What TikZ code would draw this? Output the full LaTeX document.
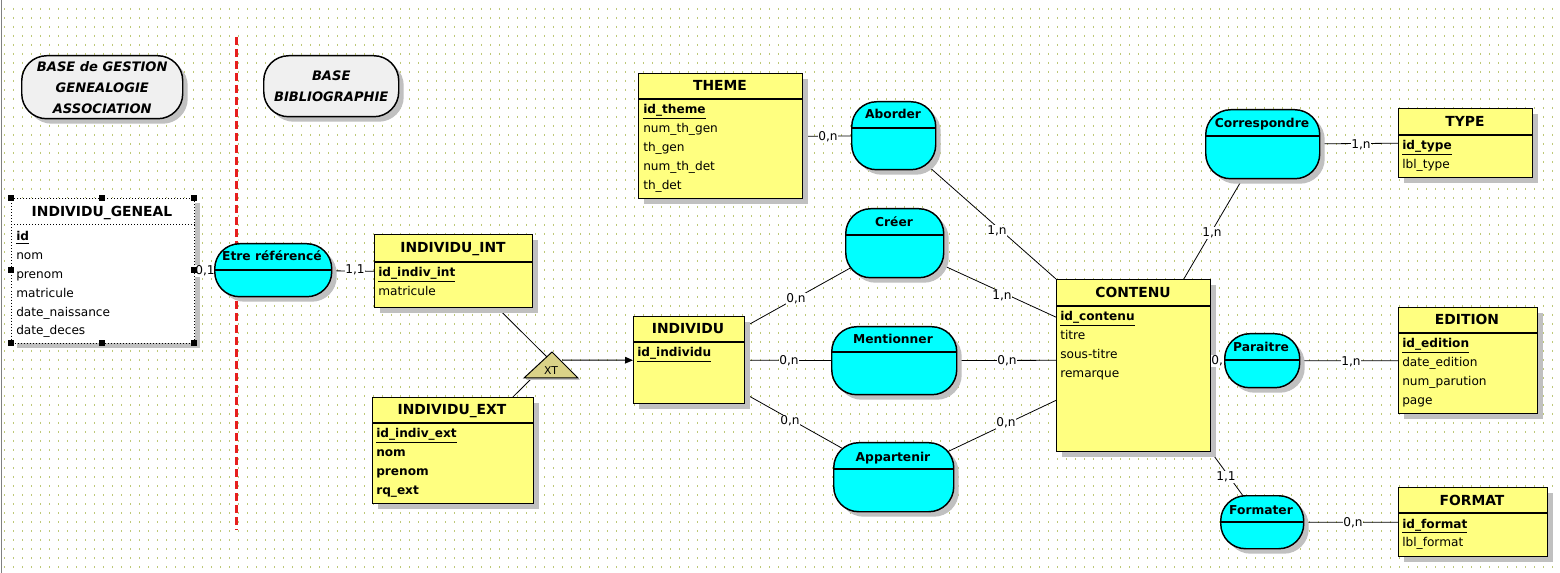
\documentclass[tikz,border=0pt]{standalone}
\usepackage{fontspec}
\setmainfont{DejaVu Sans}
\usetikzlibrary{arrows.meta,shadows}

\definecolor{jaune}{RGB}{255,255,128}
\definecolor{assoccyan}{RGB}{0,255,255}
\definecolor{grisfond}{RGB}{240,240,240}
\definecolor{ombre}{RGB}{192,192,192}
\definecolor{kaki}{RGB}{218,210,136}
\definecolor{grille}{RGB}{190,200,120}
\definecolor{rougetrait}{RGB}{230,30,30}
\newcommand{\cle}[1]{\underline{\textbf{#1}}}

\pgfdeclarelayer{fond}
\pgfdeclarelayer{liens}
\pgfsetlayers{fond,liens,main}

\begin{document}
\begin{tikzpicture}[x=0.75pt,y=-0.75pt,
  boxsize/.style 2 args={minimum width=#1*0.75pt,minimum height=#2*0.75pt,inner sep=0pt},
  ombree/.style={drop shadow={shadow xshift=3.75pt,shadow yshift=-3.75pt,fill=ombre,opacity=1}},
  entite/.style={draw,line width=1.1pt,fill=jaune,anchor=north west,ombree},
  assoc/.style={draw,line width=1.1pt,fill=assoccyan,rounded corners=18.75pt,anchor=north west,ombree},
  titre/.style={draw,line width=1.1pt,fill=grisfond,rounded corners=18.75pt,anchor=north west,ombree,
    align=center,font=\fontsize{9.8}{15.75}\selectfont\bfseries\itshape},
  trait/.style={line width=1.1pt},
  entete/.style={anchor=base,inner sep=0pt,font=\fontsize{10.4}{12}\selectfont\bfseries},
  nomassoc/.style={anchor=base,inner sep=0pt,font=\fontsize{9.2}{11}\selectfont\bfseries},
  attr/.style={anchor=base west,inner sep=0pt,font=\fontsize{9.1}{11}\selectfont},
  card/.style={fill=white,inner sep=0.6pt,font=\fontsize{9.1}{11}\selectfont},
  lien/.style={line width=0.6pt},
  heritage/.style={draw,line width=0.75pt,fill=kaki,drop shadow={shadow xshift=1.5pt,shadow yshift=-1.5pt,fill=ombre,opacity=1}},
  poignee/.style={fill=black,minimum size=4.5pt,inner sep=0pt}]

\useasboundingbox (0,0) rectangle (1560,573);

% Fond quadrille et separation
\begin{pgfonlayer}{fond}
\fill[white] (0,0) rectangle (1560,573);
\foreach \gx in {4,13,...,1558}
  \draw[grille,line width=0.75pt,dash pattern=on 1.5pt off 5.25pt] (\gx,8) -- (\gx,573);
\draw[gray,line width=0.75pt] (1,0) -- (1,573);
\draw[rougetrait,line width=2.25pt,dash pattern=on 6pt off 3pt] (236,37) -- (236,530);
\end{pgfonlayer}

% Cartouches
\node[titre,boxsize={161}{63}] (base-gen) at (21,55) {BASE de GESTION\\GENEALOGIE\\ASSOCIATION};
\node[titre,boxsize={135}{61}] (base-bib) at (263,55) {BASE\\BIBLIOGRAPHIE};

% Entites
\node[entite,fill=white,line width=0.75pt,dash pattern=on 0.75pt off 1.5pt,boxsize={183}{145}] (geneal) at (11,198) {};
\draw[line width=0.75pt,dash pattern=on 0.75pt off 1.5pt] (geneal.west |- 0,225) -- (geneal.east |- 0,225);
\node[entete] (geneal-t) at (102,217) {INDIVIDU\_GENEAL};
\foreach \a [count=\i] in {\cle{id},nom,prenom,matricule,date\_naissance,date\_deces}
  \node[attr] (geneal-\i) at (16,{241+18.8*(\i-1)}) {\a};

\node[entite,boxsize={158}{73}] (int) at (374,234) {};
\draw[trait] (int.west |- 0,262) -- (int.east |- 0,262);
\node[entete] (int-t) at (453,253) {INDIVIDU\_INT};
\foreach \a [count=\i] in {\cle{id\_indiv\_int},matricule}
  \node[attr] (int-\i) at (378,{277+18.8*(\i-1)}) {\a};

\node[entite,boxsize={161}{106}] (ext) at (372,397) {};
\draw[trait] (ext.west |- 0,423) -- (ext.east |- 0,423);
\node[entete] (ext-t) at (452,415) {INDIVIDU\_EXT};
\foreach \a [count=\i] in {\cle{id\_indiv\_ext},\textbf{nom},\textbf{prenom},\textbf{rq\_ext}}
  \node[attr] (ext-\i) at (376,{438+18.8*(\i-1)}) {\a};

\node[entite,boxsize={111}{87}] (individu) at (633,316) {};
\draw[trait] (individu.west |- 0,342) -- (individu.east |- 0,342);
\node[entete] (individu-t) at (688,334) {INDIVIDU};
\node[attr] (individu-1) at (637,357) {\cle{id\_individu}};

\node[entite,boxsize={164}{125}] (theme) at (638,73) {};
\draw[trait] (theme.west |- 0,99) -- (theme.east |- 0,99);
\node[entete] (theme-t) at (720,91) {THEME};
\foreach \a [count=\i] in {\cle{id\_theme},num\_th\_gen,th\_gen,num\_th\_det,th\_det}
  \node[attr] (theme-\i) at (643,{114+18.8*(\i-1)}) {\a};

\node[entite,boxsize={154}{172}] (contenu) at (1056,279) {};
\draw[trait] (contenu.west |- 0,306) -- (contenu.east |- 0,306);
\node[entete] (contenu-t) at (1133,298) {CONTENU};
\foreach \a [count=\i] in {\cle{id\_contenu},titre,sous-titre,remarque}
  \node[attr] (contenu-\i) at (1060,{321+18.8*(\i-1)}) {\a};

\node[entite,boxsize={134}{69}] (type) at (1398,108) {};
\draw[trait] (type.west |- 0,135) -- (type.east |- 0,135);
\node[entete] (type-t) at (1465,127) {TYPE};
\foreach \a [count=\i] in {\cle{id\_type},lbl\_type}
  \node[attr] (type-\i) at (1402,{150+18.8*(\i-1)}) {\a};

\node[entite,boxsize={139}{106}] (edition) at (1398,307) {};
\draw[trait] (edition.west |- 0,333) -- (edition.east |- 0,333);
\node[entete] (edition-t) at (1467,325) {EDITION};
\foreach \a [count=\i] in {\cle{id\_edition},date\_edition,num\_parution,page}
  \node[attr] (edition-\i) at (1402,{348+18.8*(\i-1)}) {\a};

\node[entite,boxsize={149}{69}] (format) at (1398,487) {};
\draw[trait] (format.west |- 0,513) -- (format.east |- 0,513);
\node[entete] (format-t) at (1472,505) {FORMAT};
\foreach \a [count=\i] in {\cle{id\_format},lbl\_format}
  \node[attr] (format-\i) at (1402,{528+18.8*(\i-1)}) {\a};

% Cardinalites
\node[card] (c1) at (205,271) {0,1};
\node[card] (c2) at (355,270) {1,1};
\node[card] (c3) at (828,137) {0,n};
\node[card] (c4) at (997,231) {1,n};
\node[card] (c5) at (1002,296) {1,n};
\node[card] (c6) at (796,299) {0,n};
\node[card] (c7) at (789,361) {0,n};
\node[card] (c8) at (1007,361) {0,n};
\node[card] (c9) at (790,421) {0,n};
\node[card] (c10) at (1006,423) {0,n};
\node[card] (c11) at (1361,145) {1,n};
\node[card] (c12) at (1212,233) {1,n};
\node[card] (c13) at (1221,361) {0,1};
\node[card] (c14) at (1351,362) {1,n};
\node[card] (c15) at (1226,477) {1,1};
\node[card] (c16) at (1353,523) {0,n};

% Associations
\node[assoc,boxsize={117}{53}] (etre) at (214,243) {};
\draw[trait] (etre.west |- 0,270) -- (etre.east |- 0,270);
\node[nomassoc] (etre-t) at (272,261) {Etre référencé};

\node[assoc,boxsize={84}{68}] (aborder) at (851,101) {};
\draw[trait] (aborder.west |- 0,128) -- (aborder.east |- 0,128);
\node[nomassoc] (aborder-t) at (893,119) {Aborder};

\node[assoc,boxsize={98}{69}] (creer) at (845,208) {};
\draw[trait] (creer.west |- 0,235) -- (creer.east |- 0,235);
\node[nomassoc] (creer-t) at (894,227) {Créer};

\node[assoc,boxsize={125}{68}] (mention) at (831,326) {};
\draw[trait] (mention.west |- 0,352) -- (mention.east |- 0,352);
\node[nomassoc] (mention-t) at (893,344) {Mentionner};

\node[assoc,boxsize={120}{69}] (appart) at (833,442) {};
\draw[trait] (appart.west |- 0,469) -- (appart.east |- 0,469);
\node[nomassoc] (appart-t) at (893,461) {Appartenir};

\node[assoc,boxsize={114}{69}] (corresp) at (1205,109) {};
\draw[trait] (corresp.west |- 0,136) -- (corresp.east |- 0,136);
\node[nomassoc] (corresp-t) at (1262,128) {Correspondre};

\node[assoc,boxsize={75}{54}] (paraitre) at (1224,333) {};
\draw[trait] (paraitre.west |- 0,360) -- (paraitre.east |- 0,360);
\node[nomassoc] (paraitre-t) at (1261,352) {Paraitre};

\node[assoc,boxsize={83}{53}] (formater) at (1220,495) {};
\draw[trait] (formater.west |- 0,522) -- (formater.east |- 0,522);
\node[nomassoc] (formater-t) at (1261,514) {Formater};

% Poignees de selection
\foreach \hx/\hy [count=\i] in {11/198,102/198,194/198,11/270,194/270,11/343,102/343,194/343}
  \node[poignee] (poignee-\i) at (\hx,\hy) {};

% Heritage XT
\coordinate (xt-haut) at (550,360);
\coordinate (xt-gauche) at (536,374);
\coordinate (xt-droite) at (562,360);
\draw[heritage] (524,378) -- (552,352) -- (578,378) -- cycle;
\node[inner sep=0pt,font=\fontsize{8.1}{10}\selectfont] (xt) at (551,371) {XT};
\draw[lien,line width=0.75pt,-{Triangle[length=6pt,width=5pt]}] (xt-droite) -- (individu.west);

% Liens
\begin{pgfonlayer}{liens}
\draw[lien] (geneal.east) -- (etre.center) -- (int.west);
\draw[lien] (theme.east) -- (aborder.center) -- (contenu.north west);
\draw[lien] (individu.31) -- (creer.center) -- (contenu.148);
\draw[lien] (individu.east) -- (mention.center) -- (contenu.176);
\draw[lien] (individu.-31) -- (appart.center) -- (contenu.204);
\draw[lien] (contenu.60) -- (corresp.center) -- (type.west);
\draw[lien] (contenu.4) -- (paraitre.center) -- (edition.west);
\draw[lien] (contenu.south east) -- (formater.center) -- (format.west);
\draw[lien] (int.-40) -- (xt-haut);
\draw[lien] (ext.42) -- (xt-gauche);
\end{pgfonlayer}

\end{tikzpicture}
\end{document}
